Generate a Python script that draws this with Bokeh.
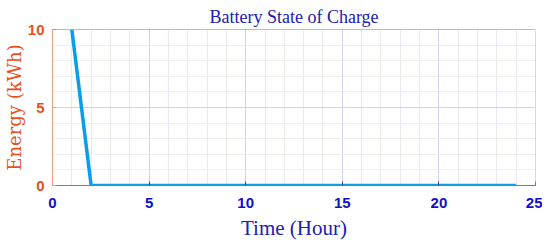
from bokeh.plotting import figure
from bokeh.models import Range1d, FixedTicker, Span
from bokeh.embed import file_html
from bokeh.resources import INLINE

hours = list(range(1, 25))
energy = [10] + [0] * 23
x_ticks = [0, 5, 10, 15, 20, 25]
y_ticks = [0, 5, 10]

BLUE = "#1010c8"
ORANGE = "#e8501a"
LINE = "#0a9ee8"

p = figure(width=542, height=242, output_backend="svg", toolbar_location=None,
           x_range=Range1d(0, 25), y_range=Range1d(0, 10),
           min_border_left=52, min_border_right=7, min_border_top=29, min_border_bottom=57)
p.outline_line_color = None

p.title.text = "Battery State of Charge"
p.title.text_font = "Liberation Serif"
p.title.text_font_style = "normal"
p.title.text_font_size = "18px"
p.title.text_color = "#2020b0"
p.title.align = "center"
p.title.offset = 0
p.title.standoff = 5

p.line(hours, energy, line_width=3.5, line_color=LINE)

xa = p.xaxis[0]
xa.ticker = FixedTicker(ticks=x_ticks, minor_ticks=list(range(0, 26)))
xa.axis_label = "Time (Hour)"
xa.axis_label_text_font = "Liberation Serif"
xa.axis_label_text_font_style = "normal"
xa.axis_label_text_font_size = "21px"
xa.axis_label_text_color = "#2020b0"
xa.axis_label_standoff = 5
xa.major_label_text_font = "Liberation Sans"
xa.major_label_text_font_style = "bold"
xa.major_label_text_font_size = "15px"
xa.major_label_text_color = BLUE
xa.major_label_standoff = 8
xa.axis_line_color = "#7070e0"
xa.major_tick_line_color = "#404080"
xa.major_tick_in = 4
xa.major_tick_out = 0
xa.minor_tick_line_color = None

ya = p.yaxis[0]
ya.ticker = FixedTicker(ticks=y_ticks, minor_ticks=list(range(0, 11)))
ya.axis_label = "Energy (kWh)"
ya.axis_label_text_font = "DejaVu Serif"
ya.axis_label_text_font_style = "normal"
ya.axis_label_text_font_size = "18px"
ya.axis_label_text_color = ORANGE
ya.axis_label_standoff = 0
ya.major_label_text_font = "Liberation Sans"
ya.major_label_text_font_style = "bold"
ya.major_label_text_font_size = "15px"
ya.major_label_text_color = ORANGE
ya.major_label_standoff = 4
ya.axis_line_color = "#f0a080"
ya.major_tick_line_color = "#f0a080"
ya.major_tick_in = 4
ya.major_tick_out = 0
ya.minor_tick_line_color = None

p.add_layout(Span(location=y_ticks[-1], dimension="width", line_color="#7070e0", line_width=1))
p.add_layout(Span(location=x_ticks[-1], dimension="height", line_color="#f0a080", line_width=1))

p.xgrid.grid_line_color = "#c8c8f0"
p.xgrid.grid_line_alpha = 0.8
p.xgrid.minor_grid_line_color = "#e4e4ee"
p.xgrid.minor_grid_line_alpha = 0.8
p.ygrid.grid_line_color = "#f6c8b8"
p.ygrid.minor_grid_line_color = "#eeeaea"
p.ygrid.minor_grid_line_alpha = 0.8

open("out.html", "w").write(file_html(p, INLINE))
